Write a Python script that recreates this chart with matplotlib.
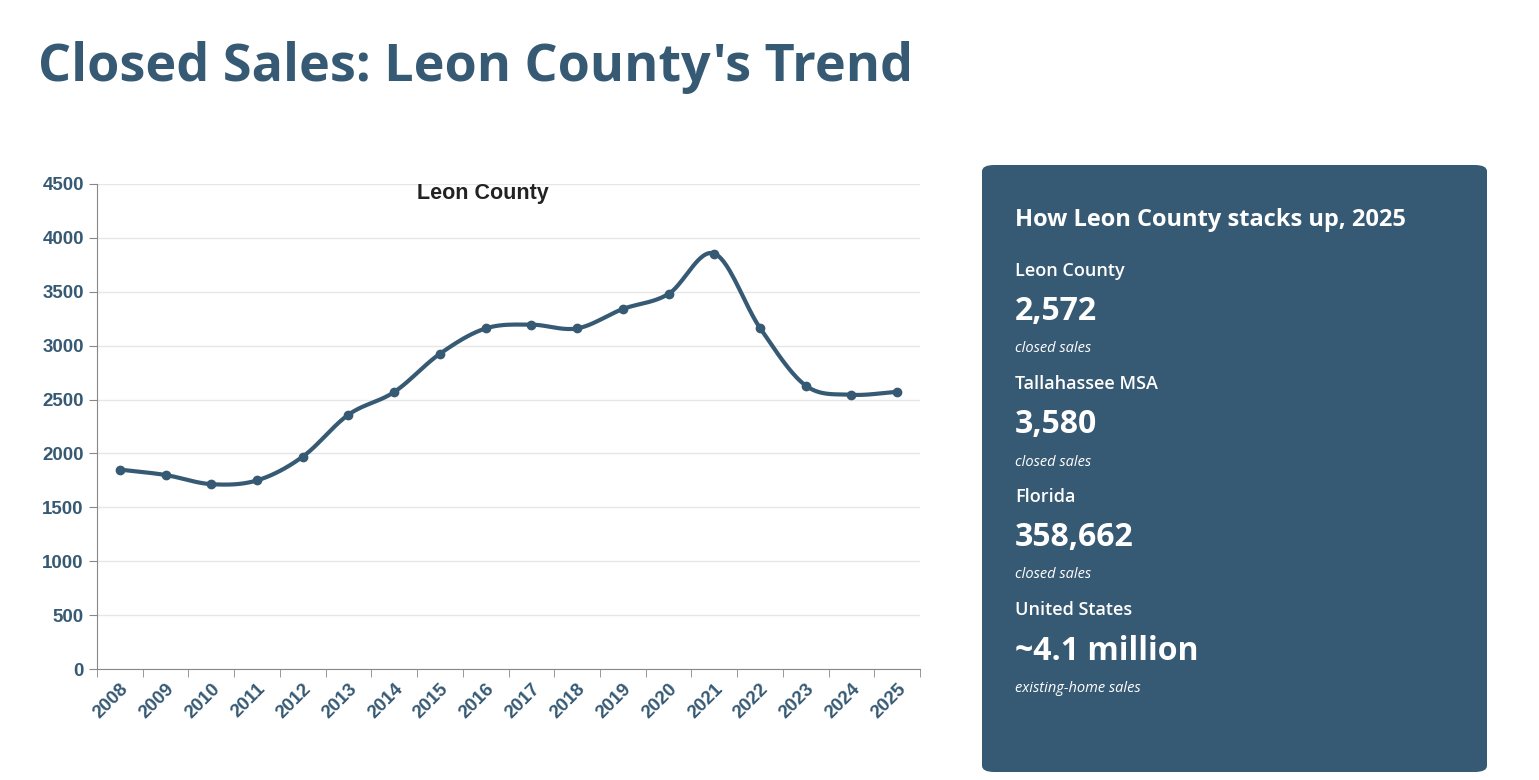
import matplotlib.pyplot as plt
import numpy as np
from matplotlib.patches import FancyBboxPatch

years = [str(y) for y in range(2008, 2026)]
sales = [1850, 1800, 1715, 1750, 1970, 2360, 2570, 2925, 3160, 3195,
         3160, 3340, 3480, 3855, 3165, 2630, 2545, 2572]

panel_labels = ["Leon County", "Tallahassee MSA", "Florida", "United States"]
panel_values = ["2,572", "3,580", "358,662", "~4.1 million"]
panel_notes = ["closed sales", "closed sales", "closed sales", "existing-home sales"]

DARK = "#375a74"
W, H = 1539, 780


def catmull_rom(x, y, n=20):
    x = np.asarray(x, float)
    y = np.asarray(y, float)
    px = np.concatenate([[2 * x[0] - x[1]], x, [2 * x[-1] - x[-2]]])
    py = np.concatenate([[2 * y[0] - y[1]], y, [2 * y[-1] - y[-2]]])
    xs, ys = [], []
    for i in range(1, len(px) - 2):
        t = np.linspace(0, 1, n, endpoint=False)
        for p, out in ((px, xs), (py, ys)):
            p0, p1, p2, p3 = p[i - 1], p[i], p[i + 1], p[i + 2]
            out.extend(0.5 * (2 * p1 + (-p0 + p2) * t
                              + (2 * p0 - 5 * p1 + 4 * p2 - p3) * t ** 2
                              + (-p0 + 3 * p1 - 3 * p2 + p3) * t ** 3))
    xs.append(x[-1]); ys.append(y[-1])
    return np.array(xs), np.array(ys)


fig = plt.figure(figsize=(W / 100, H / 100), dpi=100)
fig.text(38 / W, 1 - 68 / H, "Closed Sales: Leon County's Trend", fontsize=37.5,
         fontweight="bold", color=DARK, family="Open Sans", va="center")

ax = fig.add_axes([97 / W, 1 - 669 / H, (920 - 97) / W, (669 - 184) / H])
x = np.arange(len(years))
sx, sy = catmull_rom(x, sales)
ax.plot(sx, sy, color=DARK, lw=3)
ax.plot(x, sales, "o", color=DARK, ms=6)
ax.set_xlim(-0.5, len(years) - 0.5)
ax.set_ylim(0, 4500)
ax.set_yticks(range(0, 4501, 500))
ax.set_xticks(x)
ax.set_xticklabels(years, rotation=45, ha="right", rotation_mode="anchor")
ax.set_xticks(np.arange(-0.5, len(years)), minor=True)
ax.tick_params(axis="x", which="major", length=0, pad=8)
ax.tick_params(axis="x", which="minor", length=6, color="#888888")
ax.tick_params(axis="y", length=6, color="#888888")
for lab in ax.get_xticklabels() + ax.get_yticklabels():
    lab.set_color(DARK); lab.set_fontweight("bold"); lab.set_fontsize(13.5)
    lab.set_family("Liberation Sans")
ax.grid(axis="y", color="#e6e6e6", lw=1)
ax.set_axisbelow(True)
for s in ("top", "right"):
    ax.spines[s].set_visible(False)
for s in ("left", "bottom"):
    ax.spines[s].set_color("#888888")
fig.text(483 / W, 1 - 193 / H, "Leon County", fontsize=15.5, fontweight="bold",
         family="Liberation Sans", color="#222222", ha="center", va="center")

# right panel
fig.patches.append(FancyBboxPatch((982 / W, 1 - 772 / H), (1487 - 982) / W, (772 - 165) / H,
                                  boxstyle="round,pad=0,rounding_size=0.008",
                                  transform=fig.transFigure, fc=DARK, ec="none"))
px = 1015 / W
fig.text(px, 1 - 220 / H, "How Leon County stacks up, 2025", color="white", fontsize=17,
         fontweight="bold", family="Open Sans", va="center")
for i, (lab, val, note) in enumerate(zip(panel_labels, panel_values, panel_notes)):
    y0 = 271 + i * 113
    fig.text(px, 1 - y0 / H, lab, color="white", fontsize=13, family="Open Sans",
             fontweight="semibold", va="center")
    fig.text(px, 1 - (y0 + 41) / H, val, color="white", fontsize=23, fontweight="bold",
             family="Open Sans", va="center")
    fig.text(px, 1 - (y0 + 78) / H, note, color="white", fontsize=10.5, style="italic",
             family="Open Sans", va="center")

fig.savefig("out.png", dpi=100)
